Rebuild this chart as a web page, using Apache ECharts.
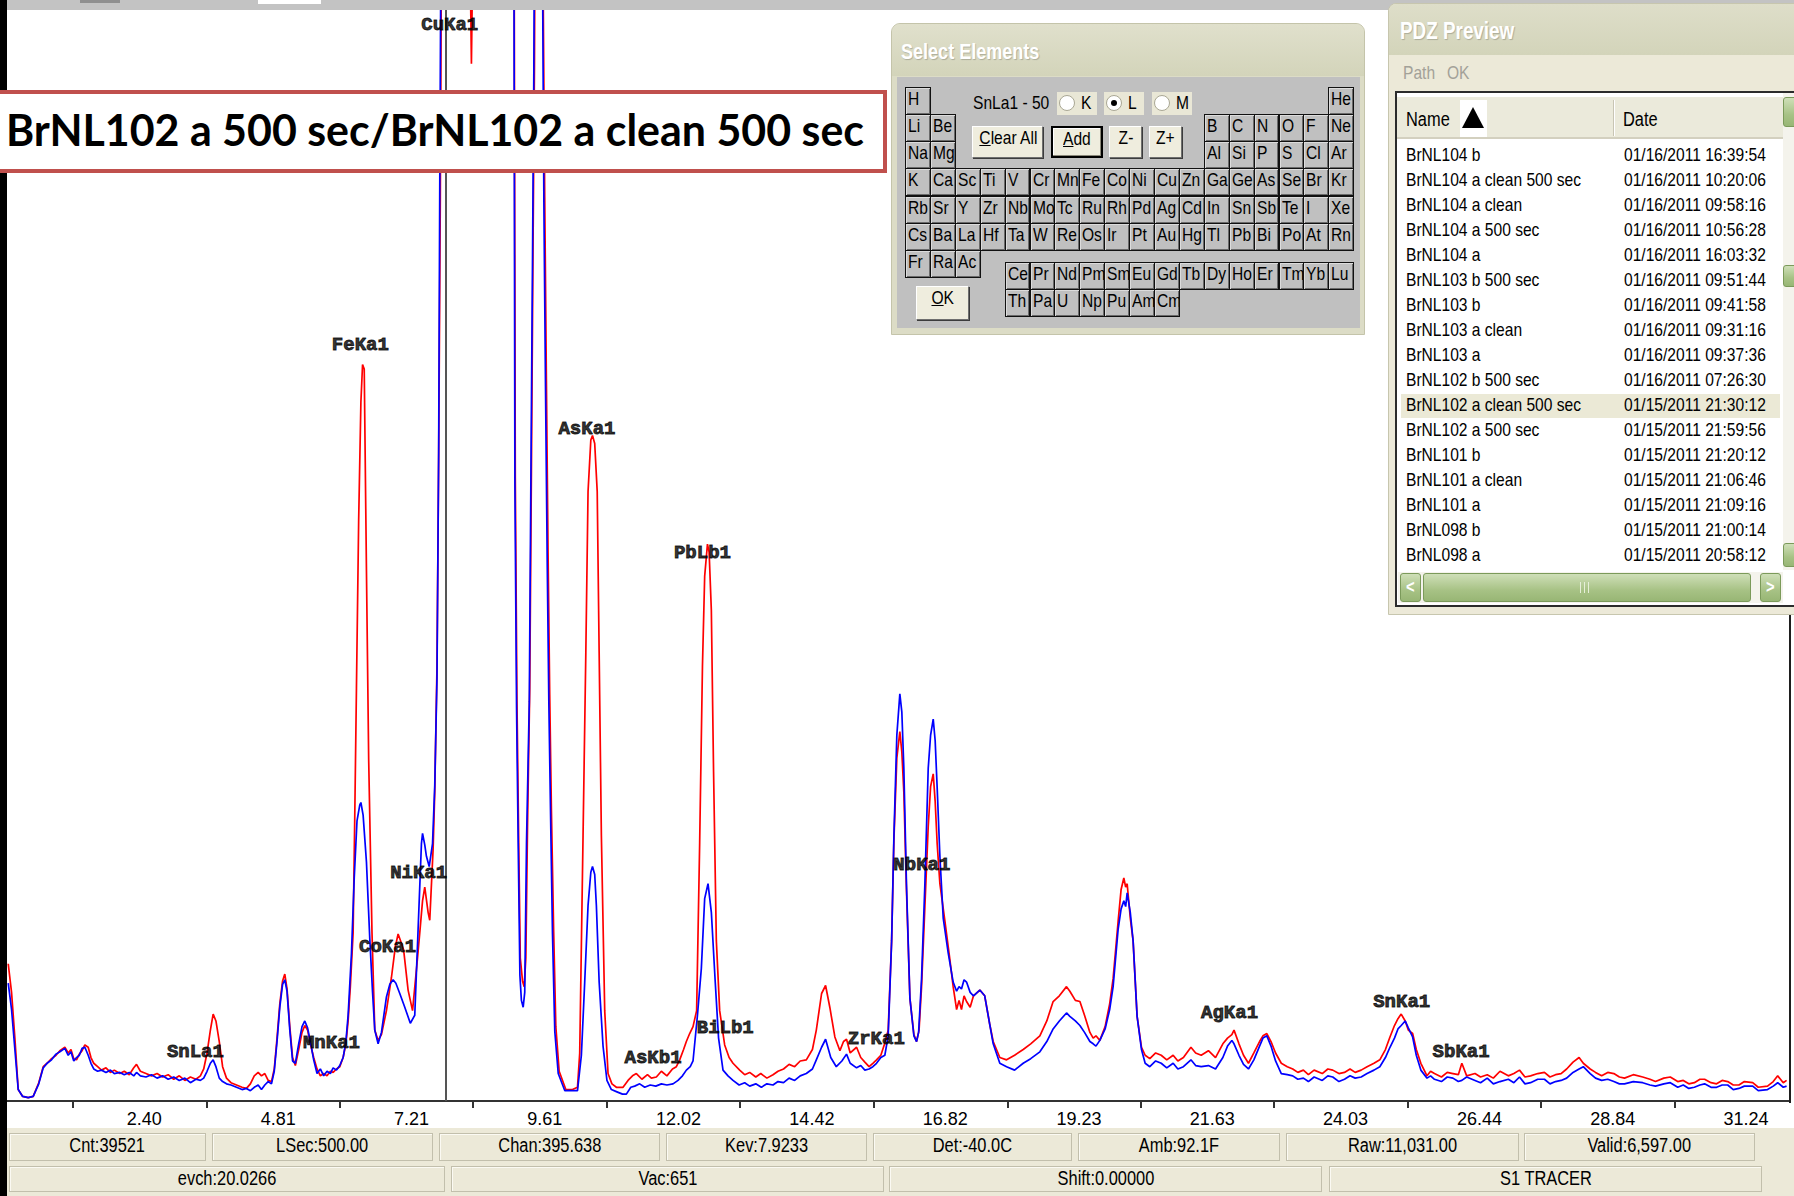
<!DOCTYPE html>
<html>
<head>
<meta charset="utf-8">
<script src="https://cdn.jsdelivr.net/npm/echarts@6/dist/echarts.min.js"></script>
<style>
  html, body { margin: 0; padding: 0; width: 1794px; height: 1196px; overflow: hidden; background: #fff; }
  #chart { position: absolute; left: 0; top: 0; width: 1794px; height: 1196px; }
  #ui { position: absolute; left: 0; top: 0; width: 1794px; height: 1196px; pointer-events: none; }
  .nw { display: inline-block; transform: scaleX(0.82); }
</style>
</head>
<body>
<div id="chart"></div>
<div id="ui"></div>
<script>
// ---- Spectrum data: [energy keV, intensity] ----
// BrNL102 a 500 sec (red)
const spectrumA = [
[0.04,120],[0.10,95],[0.16,55],[0.22,10],[0.30,4],[0.40,3],[0.49,4],[0.59,16],[0.67,30],[0.74,33],[0.82,37],[0.90,40],[0.97,44],[1.06,47],[1.12,42],[1.17,45],[1.22,37],[1.27,36],[1.32,41],[1.37,44],[1.42,49],[1.48,47],[1.53,38],[1.58,33],[1.65,30],[1.72,27],[1.80,29],[1.88,25],[1.95,27],[2.05,24],[2.13,26],[2.22,23],[2.30,29],[2.35,32],[2.42,26],[2.52,24],[2.62,22],[2.72,24],[2.82,21],[2.92,23],[3.02,19],[3.12,22],[3.22,18],[3.32,21],[3.42,19],[3.50,22],[3.56,28],[3.62,42],[3.68,62],[3.73,76],[3.78,70],[3.84,52],[3.90,30],[3.97,20],[4.05,16],[4.15,14],[4.25,12],[4.33,11],[4.40,15],[4.47,22],[4.54,25],[4.60,22],[4.66,24],[4.72,18],[4.78,17],[4.83,28],[4.88,55],[4.93,85],[4.98,105],[5.02,111],[5.06,98],[5.11,65],[5.16,38],[5.21,31],[5.27,45],[5.33,60],[5.38,66],[5.43,62],[5.48,50],[5.54,38],[5.60,28],[5.66,22],[5.72,24],[5.78,22],[5.84,26],[5.89,25],[5.95,28],[6.01,30],[6.07,38],[6.12,50],[6.16,70],[6.20,100],[6.25,147],[6.28,250],[6.31,361],[6.35,508],[6.39,611],[6.42,644],[6.45,640],[6.49,464],[6.53,299],[6.59,147],[6.64,62],[6.70,53],[6.76,58],[6.85,79],[6.94,108],[7.01,135],[7.06,146],[7.12,138],[7.16,132],[7.24,97],[7.32,79],[7.40,120],[7.45,147],[7.50,175],[7.54,187],[7.60,165],[7.63,158],[7.69,220],[7.72,270],[7.76,380],[7.79,560],[7.82,790],[7.85,1100],[7.95,3000],[8.05,4000],[8.20,2000],[8.33,1100],[8.38,907],[8.43,1100],[8.60,1500],[8.90,1800],[9.10,1200],[9.15,1000],[9.17,545],[9.20,350],[9.23,232],[9.26,125],[9.30,105],[9.33,100],[9.36,125],[9.39,240],[9.43,360],[9.46,550],[9.49,750],[9.515,905],[9.55,1300],[9.60,1900],[9.65,1300],[9.675,950],[9.70,790],[9.73,630],[9.76,480],[9.79,355],[9.82,255],[9.86,150],[9.90,65],[9.96,26],[10.08,10],[10.20,10],[10.29,12],[10.33,42],[10.39,232],[10.44,392],[10.48,533],[10.53,578],[10.56,582],[10.60,575],[10.645,533],[10.68,392],[10.72,232],[10.78,79],[10.84,24],[10.91,15],[10.99,12],[11.11,12],[11.20,18],[11.28,22],[11.35,24],[11.45,19],[11.55,23],[11.62,20],[11.71,21],[11.80,26],[11.90,22],[12.00,28],[12.07,30],[12.13,36],[12.20,45],[12.25,52],[12.31,59],[12.37,65],[12.435,79],[12.49,226],[12.54,380],[12.58,459],[12.63,487],[12.66,480],[12.70,429],[12.74,288],[12.79,140],[12.85,79],[12.94,49],[13.02,38],[13.09,33],[13.21,27],[13.30,23],[13.39,25],[13.50,21],[13.59,24],[13.70,20],[13.81,23],[13.90,26],[14.00,28],[14.10,32],[14.20,30],[14.30,35],[14.41,36],[14.52,45],[14.59,62],[14.685,94],[14.757,101],[14.833,82],[14.924,56],[15.015,44],[15.08,52],[15.134,54],[15.20,42],[15.315,47],[15.39,38],[15.464,34],[15.54,30],[15.608,33],[15.674,36],[15.752,40],[15.82,50],[15.884,62],[15.946,140],[15.987,228],[16.04,300],[16.094,323],[16.13,305],[16.166,270],[16.213,185],[16.275,90],[16.347,58],[16.395,52],[16.44,62],[16.485,100],[16.545,170],[16.605,240],[16.648,275],[16.695,286],[16.73,262],[16.766,225],[16.815,190],[16.906,157],[16.994,124],[17.054,100],[17.116,80],[17.16,88],[17.204,80],[17.25,92],[17.295,87],[17.36,82],[17.42,92],[17.534,97],[17.622,92],[17.709,68],[17.775,52],[17.894,38],[18.016,36],[18.16,40],[18.315,45],[18.45,50],[18.615,57],[18.74,70],[18.854,87],[18.966,92],[19.095,100],[19.155,96],[19.254,88],[19.336,87],[19.419,75],[19.516,60],[19.575,55],[19.625,57],[19.695,53],[19.79,65],[19.872,85],[19.934,107],[20.024,157],[20.078,185],[20.127,195],[20.16,187],[20.187,190],[20.243,160],[20.294,140],[20.366,74],[20.445,47],[20.511,40],[20.595,37],[20.70,42],[20.80,40],[20.90,36],[21.015,40],[21.10,35],[21.20,38],[21.335,47],[21.42,42],[21.52,40],[21.65,44],[21.778,38],[21.91,50],[21.994,55],[22.072,58],[22.111,62],[22.20,50],[22.282,40],[22.371,33],[22.468,42],[22.571,52],[22.632,57],[22.702,59],[22.777,52],[22.859,42],[22.962,33],[23.07,30],[23.168,28],[23.26,25],[23.36,27],[23.45,23],[23.553,27],[23.70,24],[23.80,28],[23.889,27],[24.00,24],[24.10,25],[24.20,28],[24.293,25],[24.40,27],[24.507,30],[24.631,33],[24.736,36],[24.837,45],[24.919,56],[25.00,66],[25.063,72],[25.121,76],[25.193,70],[25.249,62],[25.327,59],[25.393,45],[25.475,33],[25.586,22],[25.65,26],[25.72,24],[25.846,21],[25.95,25],[26.052,24],[26.15,23],[26.213,33],[26.30,22],[26.45,24],[26.55,21],[26.67,23],[26.78,20],[26.90,26],[27.05,22],[27.15,24],[27.251,27],[27.35,21],[27.45,22],[27.58,24],[27.70,25],[27.80,21],[27.90,23],[28.00,24],[28.10,28],[28.215,34],[28.324,38],[28.40,33],[28.524,28],[28.62,25],[28.73,22],[28.84,25],[28.95,24],[29.05,21],[29.142,20],[29.30,23],[29.47,21],[29.60,19],[29.70,17],[29.85,20],[29.966,21],[30.10,17],[30.20,18],[30.30,15],[30.40,16],[30.50,19],[30.584,19],[30.70,16],[30.80,15],[30.90,18],[31.00,17],[31.10,14],[31.202,14],[31.30,17],[31.45,16],[31.55,12],[31.717,13],[31.82,17],[31.90,22],[32.00,16],[32.06,18]
];
// BrNL102 a clean 500 sec (blue)
const spectrumB = [
[0.04,103],[0.10,80],[0.16,45],[0.22,10],[0.30,4],[0.40,3],[0.49,4],[0.59,15],[0.67,29],[0.74,33],[0.82,36],[0.90,41],[0.97,43],[1.06,46],[1.12,40],[1.17,43],[1.22,35],[1.27,38],[1.32,40],[1.37,46],[1.42,47],[1.48,40],[1.53,33],[1.58,28],[1.65,26],[1.72,27],[1.80,25],[1.88,27],[1.95,24],[2.05,25],[2.13,23],[2.22,25],[2.30,22],[2.35,25],[2.42,22],[2.52,21],[2.62,23],[2.72,20],[2.82,22],[2.92,19],[3.02,21],[3.12,18],[3.22,20],[3.32,16],[3.42,19],[3.50,18],[3.56,20],[3.62,26],[3.68,33],[3.73,36],[3.78,30],[3.84,20],[3.90,17],[3.97,15],[4.05,14],[4.15,12],[4.25,10],[4.33,11],[4.40,9],[4.47,12],[4.54,14],[4.60,10],[4.66,14],[4.72,17],[4.78,15],[4.83,26],[4.88,52],[4.93,82],[4.98,102],[5.02,106],[5.06,96],[5.11,62],[5.16,35],[5.21,33],[5.27,50],[5.33,65],[5.38,70],[5.43,64],[5.48,52],[5.54,36],[5.60,24],[5.66,28],[5.72,22],[5.78,26],[5.84,24],[5.89,29],[5.95,27],[6.01,31],[6.07,38],[6.12,52],[6.16,75],[6.22,129],[6.27,195],[6.32,245],[6.37,259],[6.39,261],[6.43,250],[6.49,209],[6.55,142],[6.60,95],[6.64,62],[6.70,50],[6.76,60],[6.85,91],[6.91,102],[6.97,106],[7.02,103],[7.09,94],[7.18,82],[7.28,68],[7.36,75],[7.42,150],[7.48,225],[7.50,234],[7.54,224],[7.57,214],[7.62,205],[7.68,225],[7.72,276],[7.76,370],[7.79,566],[7.81,800],[7.84,1100],[7.95,3500],[8.05,4500],[8.20,2500],[8.38,1300],[8.60,1700],[8.90,2000],[9.10,1300],[9.146,1000],[9.163,539],[9.193,343],[9.222,226],[9.253,110],[9.28,88],[9.312,82],[9.34,95],[9.372,226],[9.422,349],[9.451,545],[9.481,741],[9.504,901],[9.54,1300],[9.59,1900],[9.64,1300],[9.665,950],[9.685,784],[9.714,625],[9.745,471],[9.774,349],[9.805,251],[9.84,146],[9.881,61],[9.943,24],[10.062,9],[10.182,9],[10.29,9],[10.36,40],[10.42,104],[10.48,171],[10.53,200],[10.56,205],[10.60,198],[10.63,171],[10.68,104],[10.75,48],[10.82,18],[10.90,10],[11.00,8],[11.10,6],[11.17,6],[11.25,12],[11.32,13],[11.41,15],[11.50,12],[11.60,14],[11.70,13],[11.80,15],[11.90,14],[12.01,15],[12.10,18],[12.18,22],[12.25,27],[12.32,30],[12.37,35],[12.45,75],[12.52,116],[12.58,177],[12.64,190],[12.70,165],[12.77,104],[12.83,55],[12.91,27],[13.00,22],[13.09,18],[13.20,14],[13.30,16],[13.39,13],[13.50,15],[13.60,12],[13.70,15],[13.81,14],[13.90,17],[14.00,16],[14.10,20],[14.20,18],[14.30,22],[14.41,24],[14.52,28],[14.59,36],[14.685,47],[14.757,54],[14.85,38],[14.95,30],[15.05,35],[15.134,41],[15.20,33],[15.315,29],[15.39,31],[15.464,27],[15.54,28],[15.608,30],[15.674,33],[15.752,38],[15.824,40],[15.884,57],[15.946,140],[15.987,231],[16.04,320],[16.094,356],[16.13,340],[16.166,291],[16.213,190],[16.275,90],[16.347,57],[16.395,52],[16.432,60],[16.485,107],[16.545,190],[16.605,291],[16.648,320],[16.695,334],[16.73,315],[16.766,274],[16.815,214],[16.875,160],[16.963,130],[17.054,104],[17.116,96],[17.16,100],[17.204,98],[17.25,106],[17.295,104],[17.36,95],[17.42,92],[17.534,97],[17.622,92],[17.709,68],[17.775,50],[17.894,33],[18.016,30],[18.16,27],[18.315,33],[18.45,37],[18.615,43],[18.74,52],[18.854,63],[18.966,70],[19.095,77],[19.155,74],[19.254,70],[19.336,66],[19.419,60],[19.516,52],[19.575,50],[19.625,48],[19.695,53],[19.79,63],[19.872,80],[19.934,100],[20.024,150],[20.078,168],[20.127,175],[20.16,170],[20.187,182],[20.243,165],[20.294,140],[20.366,74],[20.445,45],[20.511,33],[20.595,30],[20.70,35],[20.80,33],[20.90,29],[21.015,33],[21.10,28],[21.20,30],[21.335,36],[21.42,31],[21.52,30],[21.65,31],[21.778,28],[21.91,38],[21.994,48],[22.072,53],[22.111,50],[22.20,40],[22.282,32],[22.371,28],[22.468,36],[22.571,48],[22.632,55],[22.702,57],[22.777,48],[22.859,35],[22.962,24],[23.07,23],[23.168,22],[23.26,19],[23.36,20],[23.45,17],[23.553,21],[23.70,18],[23.80,22],[23.889,21],[24.00,17],[24.10,19],[24.20,22],[24.293,20],[24.40,21],[24.507,24],[24.631,27],[24.736,30],[24.837,38],[24.919,47],[25.00,55],[25.063,63],[25.121,66],[25.193,70],[25.249,64],[25.327,56],[25.393,40],[25.475,27],[25.586,20],[25.65,22],[25.72,19],[25.846,17],[25.95,21],[26.052,20],[26.15,17],[26.213,18],[26.30,21],[26.45,18],[26.55,16],[26.67,20],[26.78,15],[26.90,17],[27.05,19],[27.15,16],[27.251,21],[27.35,15],[27.45,16],[27.58,19],[27.70,19],[27.80,15],[27.90,17],[28.00,18],[28.10,20],[28.215,25],[28.324,28],[28.40,30],[28.524,24],[28.62,20],[28.73,18],[28.84,19],[28.95,17],[29.05,15],[29.142,15],[29.30,17],[29.47,16],[29.60,14],[29.70,13],[29.85,15],[29.966,16],[30.10,12],[30.20,14],[30.30,11],[30.40,12],[30.50,14],[30.584,15],[30.70,12],[30.80,12],[30.90,14],[31.00,14],[31.10,10],[31.202,11],[31.30,13],[31.45,13],[31.55,9],[31.717,10],[31.82,13],[31.90,16],[32.00,12],[32.06,13]
];

// Peak identification labels
const peakNames = ['CuKa1','FeKa1','AsKa1','PbLb1','NiKa1','CoKa1','MnKa1','SnLa1','AsKb1','BiLb1','ZrKa1','NbKa1','AgKa1','SnKa1','SbKa1'];
const peakLabelKeV = [7.99, 6.38, 10.46, 12.54, 7.43, 6.87, 5.86, 3.41, 11.65, 12.95, 15.67, 16.49, 22.03, 25.13, 26.20];
const peakLabelLevel = [941, 661, 588, 479, 199, 135, 51, 43, 38, 64, 54, 206, 77, 87, 43];

// Energy axis labels (keV)
const tickLabels = ['2.40','4.81','7.21','9.61','12.02','14.42','16.82','19.23','21.63','24.03','26.44','28.84','31.24'];
const cursorKeV = 7.9233;

// Status bar
const statusRow1 = ['Cnt:39521','LSec:500.00','Chan:395.638','Kev:7.9233','Det:-40.0C','Amb:92.1F','Raw:11,031.00','Valid:6,597.00'];
const statusRow2 = ['evch:20.0266','Vac:651','Shift:0.00000','S1 TRACER'];

// PDZ file list
const fileNames = ['BrNL104 b','BrNL104 a clean 500 sec','BrNL104 a clean','BrNL104 a 500 sec','BrNL104 a','BrNL103 b 500 sec','BrNL103 b','BrNL103 a clean','BrNL103 a','BrNL102 b 500 sec','BrNL102 a clean 500 sec','BrNL102 a 500 sec','BrNL101 b','BrNL101 a clean','BrNL101 a','BrNL098 b','BrNL098 a'];
const fileDates = ['01/16/2011 16:39:54','01/16/2011 10:20:06','01/16/2011 09:58:16','01/16/2011 10:56:28','01/16/2011 16:03:32','01/16/2011 09:51:44','01/16/2011 09:41:58','01/16/2011 09:31:16','01/16/2011 09:37:36','01/16/2011 07:26:30','01/15/2011 21:30:12','01/15/2011 21:59:56','01/15/2011 21:20:12','01/15/2011 21:06:46','01/15/2011 21:09:16','01/15/2011 21:00:14','01/15/2011 20:58:12'];
const selectedFile = 'BrNL102 a clean 500 sec';

// Periodic table for the element picker
const ptMain = [
 ['H','','','','','','','','','','','','','','','','','He'],
 ['Li','Be','','','','','','','','','','','B','C','N','O','F','Ne'],
 ['Na','Mg','','','','','','','','','','','Al','Si','P','S','Cl','Ar'],
 ['K','Ca','Sc','Ti','V','Cr','Mn','Fe','Co','Ni','Cu','Zn','Ga','Ge','As','Se','Br','Kr'],
 ['Rb','Sr','Y','Zr','Nb','Mo','Tc','Ru','Rh','Pd','Ag','Cd','In','Sn','Sb','Te','I','Xe'],
 ['Cs','Ba','La','Hf','Ta','W','Re','Os','Ir','Pt','Au','Hg','Tl','Pb','Bi','Po','At','Rn'],
 ['Fr','Ra','Ac']
];
const ptLanthanides = ['Ce','Pr','Nd','Pm','Sm','Eu','Gd','Tb','Dy','Ho','Er','Tm','Yb','Lu'];
const ptActinides = ['Th','Pa','U','Np','Pu','Am','Cm'];

const SANS = '"Liberation Sans",Arial,sans-serif';

// ---- Spectrum chart ----
const half = (parseFloat(tickLabels[tickLabels.length-1]) - parseFloat(tickLabels[0])) / (tickLabels.length - 1) / 2;
const labelValues = tickLabels.map(Number);
const tickValues = labelValues.map(v => +(v - half).toFixed(4));

const chart = echarts.init(document.getElementById('chart'), null, { renderer: 'svg', width: 1794, height: 1196 });
chart.setOption({
  animation: false,
  backgroundColor: '#ffffff',
  grid: { left: 6, top: 10, width: 1782.8, height: 1091 },
  xAxis: {
    type: 'value', min: 0, max: 32.1,
    axisLine: { show: true, onZero: false, lineStyle: { color: '#333', width: 2 } },
    axisTick: { show: true, customValues: tickValues, length: 7, lineStyle: { color: '#333', width: 2 } },
    axisLabel: {
      customValues: labelValues,
      formatter: v => tickLabels[labelValues.indexOf(v)] ?? v.toFixed(2),
      fontFamily: SANS, fontSize: 18, color: '#000', margin: 9, padding: [0, 0, 0, 10]
    },
    splitLine: { show: false }
  },
  yAxis: { type: 'value', min: 0, max: 954, show: false },
  series: [
    {
      type: 'line', name: 'BrNL102 a 500 sec', data: spectrumA,
      showSymbol: false, symbol: 'none', clip: true, z: 2,
      lineStyle: { color: '#ff0000', width: 1.7 },
      markLine: {
        silent: true, symbol: 'none', label: { show: false },
        lineStyle: { color: '#555', width: 2, type: 'solid' },
        data: [{ xAxis: cursorKeV }]
      }
    },
    {
      type: 'line', name: 'BrNL102 a clean 500 sec', data: spectrumB,
      showSymbol: false, symbol: 'none', clip: true, z: 3,
      lineStyle: { color: '#0000ff', width: 1.7 }
    },
    {
      type: 'scatter', z: 5, symbolSize: 1, itemStyle: { color: 'rgba(0,0,0,0)' },
      data: peakNames.map((n, i) => ({ name: n, value: [peakLabelKeV[i], peakLabelLevel[i]] })),
      label: {
        show: true, position: 'inside', formatter: '{b}',
        fontFamily: '"Liberation Mono","DejaVu Sans Mono",monospace', fontWeight: 'bold',
        fontSize: 19, color: '#000', textBorderColor: '#000', textBorderWidth: 0.9
      }
    }
  ]
});

// ---- Window chrome around the plot ----
const ui = document.getElementById('ui');
function el(css, text, align) {
  const e = document.createElement('div');
  e.style.cssText = 'position:absolute;box-sizing:border-box;white-space:nowrap;' + css;
  if (text !== undefined) {
    // condensed UI text: regular sans squeezed horizontally
    const s = document.createElement('span');
    s.className = 'nw';
    s.style.transformOrigin = align === 'center' ? '50% 50%' : '0 50%';
    s.textContent = text;
    e.appendChild(s);
  }
  ui.appendChild(e);
  return e;
}
function fitX(e, w) {
  const r = e.getBoundingClientRect().width;
  if (r > 0) { e.style.transformOrigin = '0 50%'; e.style.transform = 'scaleX(' + (w / r) + ')'; }
}

// toolbar strip and frame edges
el('left:0;top:0;width:1794px;height:10px;background:#c3c3c3;');
el('left:80px;top:0;width:40px;height:3px;background:#8f8f8f;');
el('left:258px;top:0;width:63px;height:4px;background:#ffffff;');
el('left:0;top:0;width:7px;height:1196px;background:#000;');
el('left:1789px;top:10px;width:2px;height:1093px;background:#1e1e1e;');

// status bar
el('left:7px;top:1128px;width:1787px;height:68px;background:#ece9d8;');
const row1Cells = [[9,206],[212,433],[439,660],[666,867],[873,1072],[1078,1280],[1286,1519],[1524,1755]];
const row2Cells = [[9,445],[451,884],[889,1322],[1329,1762]];
row1Cells.forEach((c, i) => {
  el(`left:${c[0]}px;top:1133px;width:${c[1]-c[0]}px;height:28px;border:1px solid #c2bfac;box-shadow:inset 1px 1px 0 #fbfaf3;text-align:center;line-height:26px;font:20px ${SANS};color:#000;`, statusRow1[i], 'center');
});
row2Cells.forEach((c, i) => {
  el(`left:${c[0]}px;top:1166px;width:${c[1]-c[0]}px;height:26px;border:1px solid #c2bfac;box-shadow:inset 1px 1px 0 #fbfaf3;text-align:center;line-height:24px;font:20px ${SANS};color:#000;`, statusRow2[i], 'center');
});

// title box
el('left:-10px;top:90px;width:897px;height:83px;background:#fff;border:4px solid #c0504d;');
const ttl = document.createElement('div');
ttl.style.cssText = 'position:absolute;left:6px;top:103px;height:56px;line-height:56px;white-space:nowrap;font:bold 44px Lato,"Open Sans",sans-serif;color:#000;';
ttl.textContent = 'BrNL102 a 500 sec/BrNL102 a clean 500 sec';
ui.appendChild(ttl);
fitX(ttl, 858);

// ---- Select Elements dialog ----
el('left:891px;top:23px;width:474px;height:312px;background:#dcdcc6;border:1px solid #c4c4aa;border-radius:9px 9px 0 0;');
el('left:892px;top:24px;width:472px;height:52px;border-radius:8px 8px 0 0;background:linear-gradient(#e0e0cc,#d3d4ba);');
el(`left:901px;top:39px;height:28px;line-height:28px;font:bold 22px ${SANS};color:#fff;text-shadow:1px 1px 1px rgba(0,0,0,0.2);`, 'Select Elements');
el('left:897px;top:77px;width:463px;height:251px;background:#c0c0c0;');

const cellW = 24.9, cellH = 27.2, tblX = 905, tblY = 86.7;
function ptCell(sym, x, y) {
  el(`left:${x}px;top:${y}px;width:${cellW + 1}px;height:${cellH + 1}px;background:#c0c0c0;border:1px solid #111;box-shadow:inset 1px 1px 0 #dcdcdc, inset -1px -1px 0 #6a6a6a;padding-left:2px;line-height:${cellH - 1}px;font:19px ${SANS};color:#000;overflow:hidden;`, sym);
}
ptMain.forEach((row, r) => row.forEach((s, c) => { if (s) ptCell(s, tblX + c * cellW, tblY + r * cellH); }));
ptLanthanides.forEach((s, i) => ptCell(s, tblX + (4 + i) * cellW, 261.7));
ptActinides.forEach((s, i) => ptCell(s, tblX + (4 + i) * cellW, 289.3));

el(`left:973px;top:92px;height:23px;line-height:23px;font:19px ${SANS};color:#000;`, 'SnLa1 - 50');
[['K', 1057, false], ['L', 1104, true], ['M', 1152, false]].forEach(([lab, x, on]) => {
  el(`left:${x}px;top:92px;width:40px;height:23px;background:#e9e7d6;`);
  el(`left:${x + 2}px;top:95px;width:16px;height:16px;border-radius:50%;background:#fff;border:1px solid #a9a794;`);
  if (on) el(`left:${x + 7}px;top:100px;width:6px;height:6px;border-radius:50%;background:#000;`);
  el(`left:${x + 24}px;top:92px;height:23px;line-height:23px;font:19px ${SANS};color:#000;`, lab);
});
function button(label, x, y, w, h, underline, isDefault) {
  const b = el(`left:${x}px;top:${y}px;width:${w}px;height:${h}px;background:#efedde;` +
    (isDefault ? 'border:2px solid #000;box-shadow:inset -1px -1px 0 #8a887a, inset 1px 1px 0 #fff;' : 'border:1px solid;border-color:#fff #6f6f6f #6f6f6f #fff;box-shadow:1px 1px 0 #3c3c3c;') +
    `text-align:center;line-height:${h - 3}px;font:19px ${SANS};color:#000;`);
  const s = document.createElement('span');
  s.className = 'nw'; s.style.transformOrigin = '50% 50%';
  if (underline) {
    const u = document.createElement('u'); u.textContent = label[0];
    s.appendChild(u); s.appendChild(document.createTextNode(label.slice(1)));
  } else s.textContent = label;
  b.appendChild(s);
}
button('Clear All', 972, 126, 71, 32, true, false);
button('Add', 1051, 126, 52, 32, true, true);
button('Z-', 1109, 126, 33, 32, false, false);
button('Z+', 1149, 126, 33, 32, false, false);
button('OK', 916, 286, 53, 34, true, false);

// ---- PDZ Preview panel ----
el('left:1388px;top:3px;width:420px;height:612px;background:#ece9d8;border:1px solid #c7c6ae;border-radius:8px 0 0 0;');
el('left:1389px;top:4px;width:410px;height:51px;border-radius:7px 0 0 0;background:linear-gradient(#dedec9,#d3d4ba);');
el(`left:1400px;top:18px;height:30px;line-height:30px;font:bold 23px ${SANS};color:#fff;text-shadow:1px 1px 1px rgba(0,0,0,0.2);`, 'PDZ Preview');
el(`left:1403px;top:62px;height:22px;line-height:22px;font:19px ${SANS};color:#a3a198;`, 'Path');
el(`left:1447px;top:62px;height:22px;line-height:22px;font:19px ${SANS};color:#a3a198;`, 'OK');
el('left:1395px;top:91px;width:410px;height:516px;background:#fff;border:2px solid #2b2b2b;border-right:none;');
el('left:1397px;top:97px;width:386px;height:42px;background:#ebeadb;border-bottom:2px solid #d3d0bf;');
el('left:1613px;top:100px;width:2px;height:36px;background:#c8c5b4;border-right:1px solid #fff;');
el(`left:1406px;top:108px;height:24px;line-height:24px;font:20px ${SANS};color:#000;`, 'Name');
el('left:1460px;top:100px;width:27px;height:37px;background:#fff;');
el('left:1462px;top:107px;width:0;height:0;border-left:11.5px solid transparent;border-right:11.5px solid transparent;border-bottom:21px solid #000;');
el(`left:1623px;top:108px;height:24px;line-height:24px;font:20px ${SANS};color:#000;`, 'Date');
fileNames.forEach((n, i) => {
  const top = 144 + 25 * i;
  if (n === selectedFile) el(`left:1401px;top:${top}px;width:379px;height:24px;background:#ebe9d6;`);
  el(`left:1406px;top:${top}px;height:25px;line-height:25px;font:19px ${SANS};color:#000;`, n);
  el(`left:1624px;top:${top}px;height:25px;line-height:25px;font:19px ${SANS};color:#000;`, fileDates[i]);
});
// horizontal scrollbar
const green = 'background:linear-gradient(#cfdfb8,#a7c285 60%,#98b675);border:1px solid #7b9a5a;border-radius:3px;';
el('left:1398px;top:572px;width:385px;height:31px;background:#f4f3ec;');
el(`left:1400px;top:573px;width:21px;height:29px;${green}color:#fff;font:bold 18px ${SANS};text-align:center;line-height:27px;`, '<', 'center');
el(`left:1423px;top:573px;width:328px;height:29px;${green}`);
el(`left:1580px;top:582px;width:9px;height:11px;border-left:1px solid #e6efd9;border-right:1px solid #e6efd9;`);
el(`left:1584px;top:582px;width:1px;height:11px;background:#e6efd9;`);
el(`left:1760px;top:573px;width:21px;height:29px;${green}color:#fff;font:bold 18px ${SANS};text-align:center;line-height:27px;`, '>', 'center');
// vertical scrollbar pieces at the clipped right edge
el('left:1783px;top:93px;width:11px;height:477px;background:#f4f3ec;');
el(`left:1783px;top:97px;width:14px;height:30px;${green}`);
el(`left:1783px;top:265px;width:14px;height:22px;${green}`);
el(`left:1783px;top:543px;width:14px;height:24px;${green}`);
</script>
</body>
</html>
